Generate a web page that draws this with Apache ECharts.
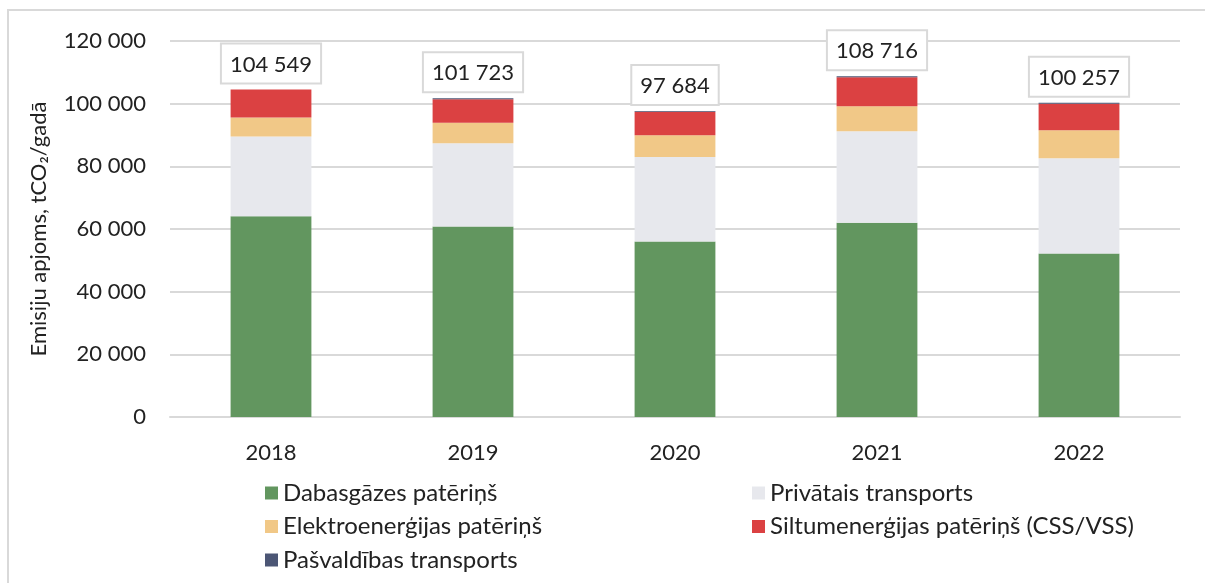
<html lang="lv">
<head>
    <meta charset="UTF-8">
    <title>Emisiju apjoms</title>
    <script src="https://cdn.jsdelivr.net/npm/echarts@6/dist/echarts.min.js"></script>
</head>
<style>
    body { margin: 0; background: #fff; }
    #container { width: 1205px; height: 583px; }
</style>
<body>
<div id="container"></div>
<script>
    // dati
    var years = ['2018', '2019', '2020', '2021', '2022'];
    var gas = [64100, 60800, 56000, 62000, 52200];
    var privateTransport = [25400, 26600, 27000, 29200, 30400];
    var electricity = [6100, 6500, 6900, 8000, 8900];
    var heat = [8949, 7473, 7484, 9216, 8457];
    var municipalTransport = [0, 350, 300, 300, 300];
    var totals = [104549, 101723, 97684, 108716, 100257];
    var yTicks = [0, 20000, 40000, 60000, 80000, 100000, 120000];

    var font = 'Lato, "Noto Sans", sans-serif';

    function fmt(v)
    {
        return String(v).replace(/\B(?=(\d{3})+(?!\d))/g, ' ');
    }

    var chart = echarts.init(document.getElementById('container'));

    var legendText = { fontFamily: font, fontSize: 24, color: '#222', lineHeight: 22 };

    var option = {
        animation: false,
        graphic: [{
            type: 'rect',
            shape: { x: 8, y: 10, width: 1300, height: 700 },
            style: { fill: 'none', stroke: '#d9d9d9', lineWidth: 2 },
            silent: true
        }],
        grid: { left: 170, right: 25, top: 41, bottom: 166 },
        legend: [
            {
                left: 260, top: 476, orient: 'vertical', itemGap: 9.5,
                itemWidth: 13, itemHeight: 13, icon: 'rect',
                textStyle: legendText,
                data: ['Dabasgāzes patēriņš', 'Elektroenerģijas patēriņš', 'Pašvaldības transports']
            },
            {
                left: 747, top: 476, orient: 'vertical', itemGap: 9.5,
                itemWidth: 13, itemHeight: 13, icon: 'rect',
                textStyle: legendText,
                data: ['Privātais transports', 'Siltumenerģijas patēriņš (CSS/VSS)']
            }
        ],
        xAxis: {
            type: 'category',
            data: years,
            axisLine: { lineStyle: { color: '#d9d9d9', width: 2 } },
            axisTick: { show: false },
            axisLabel: { fontFamily: font, fontSize: 22, color: '#222', margin: 25 }
        },
        yAxis: {
            type: 'value',
            min: 0,
            max: yTicks[yTicks.length - 1],
            interval: yTicks[1] - yTicks[0],
            name: 'Emisiju apjoms, tCO₂/gadā',
            nameLocation: 'middle',
            nameGap: 120,
            nameTextStyle: { fontFamily: font, fontSize: 22, color: '#222' },
            axisLine: { show: false },
            axisTick: { show: false },
            splitLine: { lineStyle: { color: '#d9d9d9', width: 2 } },
            axisLabel: {
                fontFamily: font, fontSize: 22, color: '#222', margin: 24,
                formatter: function (v) { return fmt(v); }
            }
        },
        series: [
            {
                name: 'Dabasgāzes patēriņš', type: 'bar', stack: 'total',
                barWidth: '40%', data: gas, itemStyle: { color: '#62965F' }
            },
            {
                name: 'Privātais transports', type: 'bar', stack: 'total',
                data: privateTransport, itemStyle: { color: '#E7E8ED' }
            },
            {
                name: 'Elektroenerģijas patēriņš', type: 'bar', stack: 'total',
                data: electricity, itemStyle: { color: '#F1C887' }
            },
            {
                name: 'Siltumenerģijas patēriņš (CSS/VSS)', type: 'bar', stack: 'total',
                data: heat, itemStyle: { color: '#DB4142' }
            },
            {
                name: 'Pašvaldības transports', type: 'bar', stack: 'total',
                data: municipalTransport, itemStyle: { color: '#4C5675' },
                label: {
                    show: true,
                    position: 'top',
                    distance: 7,
                    formatter: function (p) { return fmt(totals[p.dataIndex]); },
                    fontFamily: font, fontSize: 22, color: '#222',
                    backgroundColor: '#fff',
                    borderColor: '#d9d9d9', borderWidth: 2,
                    padding: [9, 8, 7, 8]
                }
            }
        ]
    };

    chart.setOption(option);
</script>
</body>
</html>
